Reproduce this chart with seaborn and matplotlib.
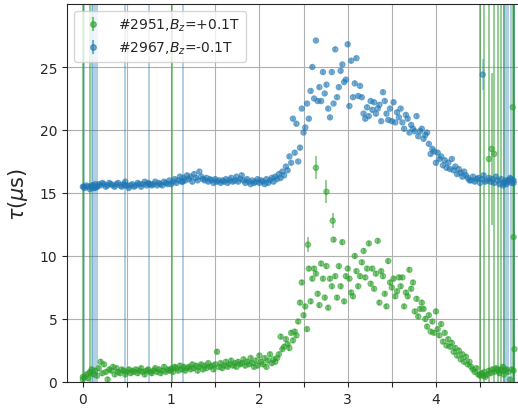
import numpy as np
import pandas as pd
import matplotlib
matplotlib.use("Agg")
import matplotlib.pyplot as plt
import seaborn as sns

# sampling of the time axis (s), shared by both shots
t_start, t_step = 0.0, 0.02

# shot #2967, Bz = -0.1 T : decay time tau (us), one value per time sample
tau_2967 = [
    15.5, 15.4, 15.6, 15.5, 15.3, 15.5, 15.6, 15.4, 15.5, 15.7,
    15.6, 15.8, 15.7, 15.5, 15.6, 15.8, 15.7, 15.6, 15.5, 15.7,
    15.8, 15.6, 15.5, 15.7, 15.9, 15.6, 15.4, 15.6, 15.7, 15.5,
    15.6, 15.8, 15.7, 15.5, 15.7, 15.9, 15.6, 15.8, 15.7, 15.6,
    15.7, 15.9, 15.6, 15.8, 15.7, 15.6, 15.9, 15.8, 15.7, 16.0,
    15.7, 15.9, 16.1, 15.8, 16.0, 16.3, 15.9, 16.2, 16.0, 16.4,
    16.1, 16.3, 15.9, 16.5, 16.2, 16.0, 16.7, 16.3, 16.1, 16.0,
    16.2, 15.9, 16.1, 16.0, 15.8, 16.1, 15.9, 16.0, 15.8, 16.0,
    15.9, 16.1, 15.8, 16.0, 16.2, 15.9, 16.0, 16.3, 15.9, 16.1,
    16.4, 16.0, 15.8, 16.1, 15.9, 15.7, 16.0, 15.8, 15.9, 16.1,
    15.8, 16.0, 15.9, 15.7, 16.1, 15.8, 16.0, 16.2, 15.9, 16.3,
    16.1, 16.5, 16.2, 16.7, 16.4, 17.1, 16.8, 17.9, 17.4, 20.9,
    18.2, 20.5, 17.5, 18.6, 21.7, 19.8, 20.2, 22.1, 20.9, 23.1,
    25.0, 22.5, 27.1, 22.3, 23.4, 22.3, 24.6, 22.9, 23.6, 21.7,
    21.0, 24.6, 22.1, 26.4, 22.6, 23.4, 24.7, 25.2, 23.8, 24.0,
    26.8, 21.9, 25.5, 22.6, 23.7, 25.7, 22.7, 23.5, 22.6, 21.3,
    20.9, 21.8, 21.1, 22.3, 21.6, 22.2, 21.3, 21.7, 22.0, 20.7,
    23.0, 22.3, 21.3, 20.8, 21.7, 20.7, 22.2, 20.6, 21.4, 21.0,
    21.7, 20.6, 20.1, 21.2, 20.9, 19.8, 20.4, 20.1, 19.9, 21.1,
    19.5, 19.9, 20.1, 19.3, 19.6, 19.8, 18.9, 18.1, 18.5, 18.3,
    17.4, 18.2, 17.7, 17.9, 17.2, 17.6, 17.0, 17.4, 16.9, 17.7,
    16.8, 17.1, 16.5, 16.9, 16.6, 16.3, 16.7, 16.4, 16.2, 16.0,
    16.0, 16.3, 15.9, 16.1, 16.2, 15.8, 16.1, 16.4, 15.9, 16.0,
    16.2, 15.9, 16.1, 15.8, 16.3, 16.0, 15.7, 16.1, 15.6, 15.9,
    15.7, 16.0, 16.2, 15.8, 16.0,
]
err_2967 = 0.15

# shot #2951, Bz = +0.1 T
tau_2951 = [
    0.2, 0.4, 0.6, 0.3, 0.8, 1.0, 0.6, 0.9, 0.5, 1.1,
    1.6, 0.7, 1.4, 0.8, 0.2, 1.0, 0.9, 1.2, 0.6, 1.1,
    0.8, 0.7, 1.0, 0.9, 0.6, 0.8, 1.0, 0.7, 0.9, 0.8,
    1.0, 0.7, 0.9, 1.1, 0.8, 0.6, 0.9, 1.0, 0.8, 0.7,
    0.9, 1.1, 0.8, 1.0, 0.7, 0.9, 1.2, 0.8, 1.0, 0.9,
    1.0, 0.8, 1.2, 1.1, 0.9, 1.3, 1.0, 1.2, 0.9, 1.1,
    1.2, 1.0, 1.4, 1.1, 1.3, 0.9, 1.2, 1.4, 1.0, 1.3,
    1.1, 1.5, 1.2, 1.3, 1.0, 1.4, 2.4, 1.2, 1.5, 1.1,
    1.3, 1.6, 1.2, 1.4, 1.7, 1.3, 1.5, 1.2, 1.6, 1.4,
    1.5, 1.8, 1.3, 1.6, 1.4, 1.9, 1.5, 1.2, 1.7, 1.3,
    2.1, 1.6, 1.4, 1.9, 1.2, 1.7, 2.2, 1.5, 1.8, 1.6,
    1.9, 2.2, 3.6, 2.6, 2.8, 3.4, 3.0, 2.7, 3.9, 3.3,
    4.0, 3.7, 4.8, 6.3, 7.9, 5.3, 6.0, 4.2, 9.0, 6.4,
    8.2, 9.0, 8.6, 7.0, 6.1, 9.4, 8.2, 6.7, 9.2, 5.9,
    8.2, 7.6, 11.3, 8.4, 6.7, 9.2, 7.6, 11.1, 6.4, 8.4,
    9.0, 8.2, 7.1, 6.8, 10.0, 8.8, 7.6, 8.4, 9.5, 10.4,
    8.3, 9.0, 11.0, 7.8, 9.0, 7.4, 8.6, 11.2, 6.3, 8.8,
    8.4, 7.0, 6.0, 9.6, 7.9, 7.5, 8.2, 6.8, 7.2, 8.3,
    7.6, 8.3, 6.0, 7.1, 6.8, 8.9, 7.4, 7.9, 5.6, 6.6,
    5.2, 5.8, 6.3, 5.8, 5.0, 4.4, 5.3, 4.0, 4.8, 3.9,
    5.6, 4.2, 3.7, 4.6, 3.2, 3.9, 2.9, 3.4, 2.8, 3.1,
    2.4, 2.7, 2.1, 2.5, 1.8, 2.2, 1.6, 2.0, 1.4, 1.6,
    1.2, 1.0, 0.8, 1.1, 0.6, 0.5, 0.7, 0.5, 0.4, 0.6,
    0.9, 0.7, 1.0, 0.8, 1.1, 0.9, 0.7, 1.0, 1.2, 0.9,
    1.0, 0.8, 0.2, 1.0, 0.9,
]
err_2951 = 0.2

# samples whose fit is poorly constrained (large uncertainty)
wide_t_2967 = [0.01, 0.10, 0.12, 0.14, 0.16, 0.48, 0.75, 1.13, 4.53, 4.77, 4.79, 4.82, 4.85, 4.88]
wide_tau_2967 = [15.5, 15.6, 15.4, 15.7, 15.5, 15.6, 15.7, 15.9, 24.4, 15.8, 16.0, 15.9, 16.1, 15.8]
wide_err_2967 = [40, 40, 40, 40, 40, 40, 40, 40, 1.2, 40, 40, 40, 40, 40]

wide_t_2951 = [0.00, 0.08, 1.01, 2.55, 2.64, 2.76, 2.83, 4.50, 4.55, 4.60, 4.63, 4.66, 4.70, 4.74, 4.77, 4.87, 4.88, 4.89]
wide_tau_2951 = [0.4, 0.7, 1.1, 10.9, 17.0, 15.1, 12.8, 0.6, 0.8, 17.7, 18.5, 18.1, 1.0, 0.9, 0.6, 21.8, 11.5, 2.6]
wide_err_2951 = [40, 40, 40, 0.6, 0.9, 0.9, 0.6, 40, 40, 40, 6, 40, 40, 40, 40, 40, 40, 40]

labels = ["#2951,$B_z$=+0.1T", "#2967,$B_z$=-0.1T"]
colors = {labels[0]: "#2ca02c", labels[1]: "#1f77b4"}

t = np.round(t_start + t_step * np.arange(len(tau_2967)), 2)

df = pd.concat([
    pd.DataFrame({"t": t, "tau": tau_2951, "shot": labels[0]}),
    pd.DataFrame({"t": wide_t_2951, "tau": wide_tau_2951, "shot": labels[0]}),
    pd.DataFrame({"t": t, "tau": tau_2967, "shot": labels[1]}),
    pd.DataFrame({"t": wide_t_2967, "tau": wide_tau_2967, "shot": labels[1]}),
], ignore_index=True)

sns.set_style("ticks")
fig = plt.figure(figsize=(5.18, 4.10), dpi=100)
ax = fig.add_axes([67 / 518, 27 / 410, 451 / 518, 378 / 410])

# error bars
ax.errorbar(t, tau_2951, yerr=err_2951, fmt="none", ecolor=colors[labels[0]], elinewidth=1.1, alpha=0.65)
ax.errorbar(wide_t_2951, wide_tau_2951, yerr=wide_err_2951, fmt="none", ecolor=colors[labels[0]], elinewidth=1.1, alpha=0.65)
ax.errorbar(t, tau_2967, yerr=err_2967, fmt="none", ecolor=colors[labels[1]], elinewidth=1.1, alpha=0.45)
ax.errorbar(wide_t_2967, wide_tau_2967, yerr=wide_err_2967, fmt="none", ecolor=colors[labels[1]], elinewidth=1.1, alpha=0.45)

# points
sns.scatterplot(data=df, x="t", y="tau", hue="shot", palette=colors, s=15,
                alpha=0.55, linewidth=0.8, legend=False, ax=ax, zorder=3)
for coll in ax.collections:
    if coll.__class__.__name__ == "PathCollection":
        coll.set_edgecolor(coll.get_facecolor())
        coll.set_alpha(0.55)

# legend entries drawn as errorbar handles
handles = []
for lab in labels:
    h = ax.errorbar([], [], yerr=[], fmt="o", color=colors[lab], ms=4, alpha=0.6, label=lab)
    handles.append(h)
ax.legend(handles=handles, labels=labels, loc="upper left", fontsize=10)

ax.set_xlim(-0.18, 4.93)
ax.set_ylim(0, 30)
ax.set_xticks(np.arange(0, 4.51, 0.5))
ax.set_xticklabels(["0", "", "1", "", "2", "", "3", "", "4", ""])
ax.set_yticks([0, 5, 10, 15, 20, 25])
ax.grid(True, color="#b0b0b0", linewidth=0.8)
ax.set_axisbelow(True)
ax.spines["right"].set_visible(False)
ax.set_xlabel("")
ax.set_ylabel(r"$\tau$($\mu$s)", fontsize=15)
ax.yaxis.set_label_coords(-0.082, 0.5)

fig.savefig("out.png", dpi=100)
